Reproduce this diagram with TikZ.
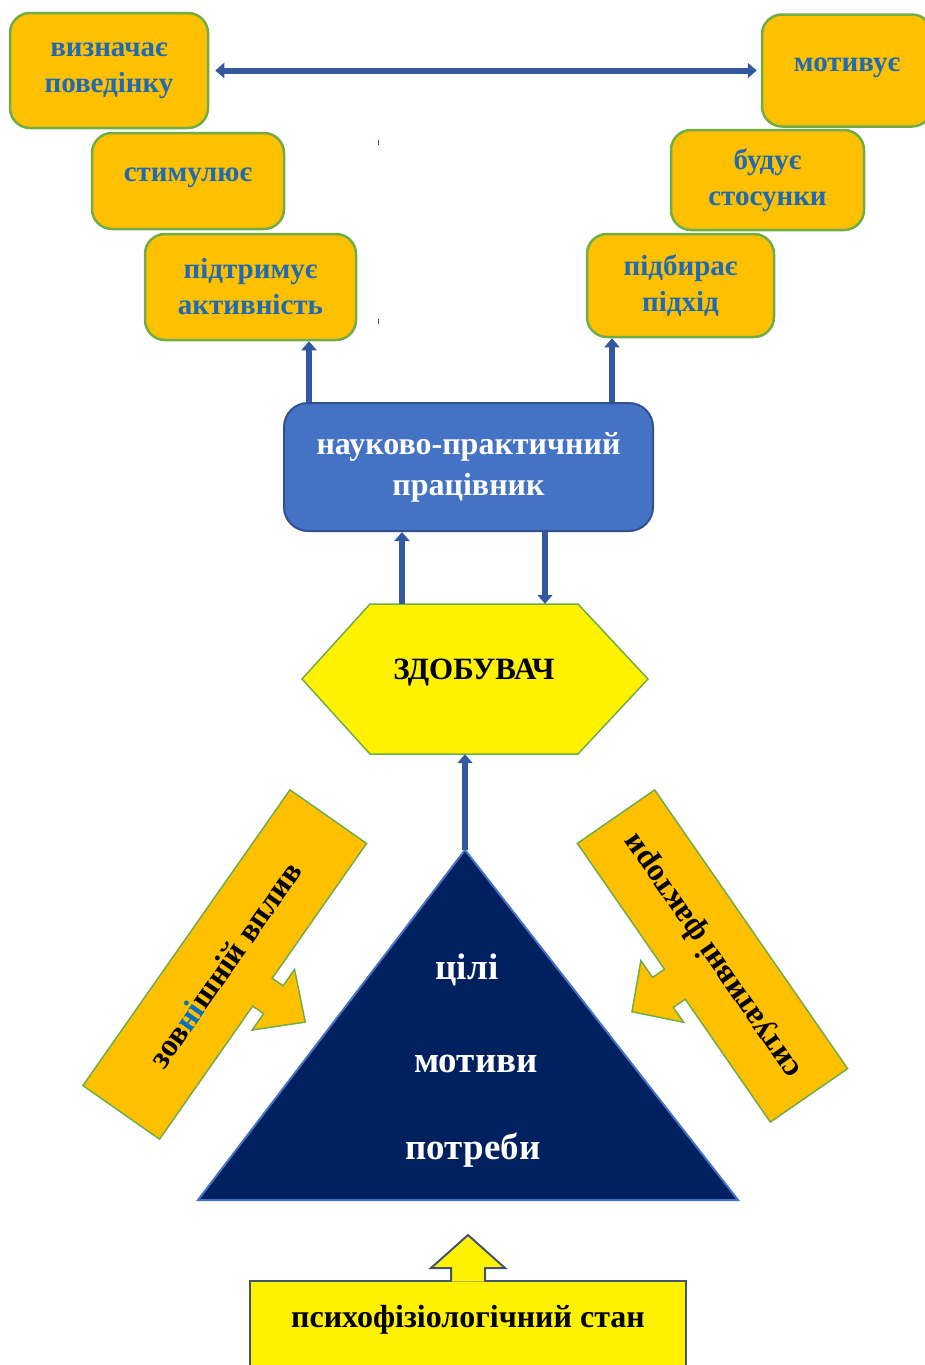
\documentclass[tikz,border=0pt]{standalone}
\usepackage{fontspec}
\setmainfont{Liberation Serif}
\usetikzlibrary{arrows.meta,positioning,calc}
\definecolor{boxorange}{HTML}{FFC000}
\definecolor{boxgreen}{HTML}{70AD47}
\definecolor{txtblue}{HTML}{1F6AB5}
\definecolor{sciblue}{HTML}{4472C4}
\definecolor{scidark}{HTML}{2F528F}
\definecolor{arrblue}{HTML}{3559A0}
\definecolor{navy}{HTML}{002060}
\definecolor{slate}{HTML}{44546A}
\definecolor{nihblue}{HTML}{0070C0}

\begin{document}
\begin{tikzpicture}[x=1pt,y=-1pt,
  every node/.style={font=\bfseries\fontsize{32}{41}\selectfont, align=center, inner sep=0pt},
  act/.style={draw=boxgreen, line width=2.5pt, fill=boxorange, rounded corners=20pt, text=txtblue,
    font=\bfseries\fontsize{29}{36}\selectfont},
  sci/.style={draw=scidark, line width=2pt, fill=sciblue, rounded corners=24pt, text=white},
  hexa/.style={draw=boxgreen, line width=1.5pt, fill=yellow},
  pyr/.style={draw=sciblue, line width=2pt, fill=navy},
  pyrtext/.style={text=white, font=\bfseries\fontsize{37}{40}\selectfont},
  callout/.style={draw=boxgreen, line width=1.5pt, fill=boxorange},
  psybox/.style={draw=slate, line width=2pt, fill=yellow},
  conn/.style={draw=arrblue, line width=6pt, -{Triangle[width=15pt,length=9pt]}},
]
\useasboundingbox (0,0) rectangle (924,1365);

% top row of actions
\node[act, minimum width=198pt, minimum height=115pt] (defines) at (109,70.5) {визначає\\поведінку};
\node[act, minimum width=170pt, minimum height=112pt] (motivates) at (847,70.5) {\raisebox{12pt}{мотивує}};
\node[act, minimum width=192pt, minimum height=96pt] (stimulates) at (188,181) {\raisebox{12pt}{стимулює}};
\node[act, minimum width=193pt, minimum height=100pt] (relations) at (767.5,180) {будує\\стосунки};
\node[act, minimum width=211pt, minimum height=106pt] (supports) at (250.5,287) {підтримує\\активність};
\node[act, minimum width=187pt, minimum height=103pt] (approach) at (680.5,285.5) {підбирає\\підхід};
\draw[conn, {Triangle[width=15pt,length=9pt]}-{Triangle[width=15pt,length=9pt]}, shorten <=6pt, shorten >=4pt]
  (defines.east) -- (motivates.west);
\draw[arrblue, line width=1pt] (378,140) -- (378,145);
\draw[arrblue, line width=1pt] (378,319) -- (378,324);

% worker
\node[sci, minimum width=369pt, minimum height=128pt] (worker) at (468.5,467) {науково-практичний\\працівник};
\draw[conn] (309,0 |- worker.north) -- (309,0 |- supports.south);
\draw[conn] (612,0 |- worker.north) -- (612,0 |- approach.south);

% student
\draw[hexa] (302,679) -- (370,604) -- (578,604) -- (648,679) -- (578,754) -- (370,754) -- cycle;
\node[minimum width=208pt, minimum height=150pt, text=black, font=\bfseries\fontsize{31}{36}\selectfont]
  (student) at (474,679) {\raisebox{20pt}{ЗДОБУВАЧ}};
\draw[conn] (402,0 |- student.north) -- (402,0 |- worker.south);
\draw[conn] (545,0 |- worker.south) -- (545,0 |- student.north);

% pyramid
\draw[pyr] (465,850) coordinate (apex) -- (738,1200) -- (198,1200) -- cycle;
\node[pyrtext] (goals) at (467,970) {цілі};
\node[pyrtext] (motives) at (476,1064) {мотиви};
\node[pyrtext] (needs) at (473,1150) {потреби};
\draw[conn] (apex) -- (apex |- student.south);

% influences
\begin{scope}[shift={(224.75,964.5)}, rotate=55]
\draw[callout] (-180.5pt,-46.75pt) -- (-18pt,-46.75pt) -- (-18pt,-60pt) -- (-38pt,-60pt) -- (-1pt,-99pt)
  -- (36pt,-60pt) -- (16pt,-60pt) -- (16pt,-46.75pt) -- (180.5pt,-46.75pt) -- (180.5pt,46.75pt)
  -- (-180.5pt,46.75pt) -- cycle;
\node[rotate=55] (outer) at (0pt,0pt) {зов{\color{nihblue}ні}шній вплив};
\end{scope}
\begin{scope}[shift={(712.5,956)}, rotate=124.7]
\draw[callout] (-169.5pt,-47pt) -- (169.5pt,-47pt) -- (169.5pt,47pt) -- (16.5pt,47pt) -- (16.5pt,61.5pt)
  -- (37pt,61.5pt) -- (0pt,98pt) -- (-38pt,61.5pt) -- (-20pt,61.5pt) -- (-20pt,47pt)
  -- (-169.5pt,47pt) -- cycle;
\node[rotate=124.7] (situation) at (0pt,0pt) {ситуативні фактори};
\end{scope}

% state
\node[psybox, minimum width=436pt, minimum height=130pt, anchor=north] (state) at (468,1280) {\raisebox{60pt}{психофізіологічний стан}};
\path[fill=yellow, draw=slate, line width=2pt, line join=miter]
  ($(state.north)+(-17,1.5)$) -- ++(0,-13.5) -- ++(-20,0) -- ($(state.north)+(0,-45)$)
  -- ($(state.north)+(37,-12)$) -- ++(-20,0) -- ++(0,13.5);
\end{tikzpicture}
\end{document}
